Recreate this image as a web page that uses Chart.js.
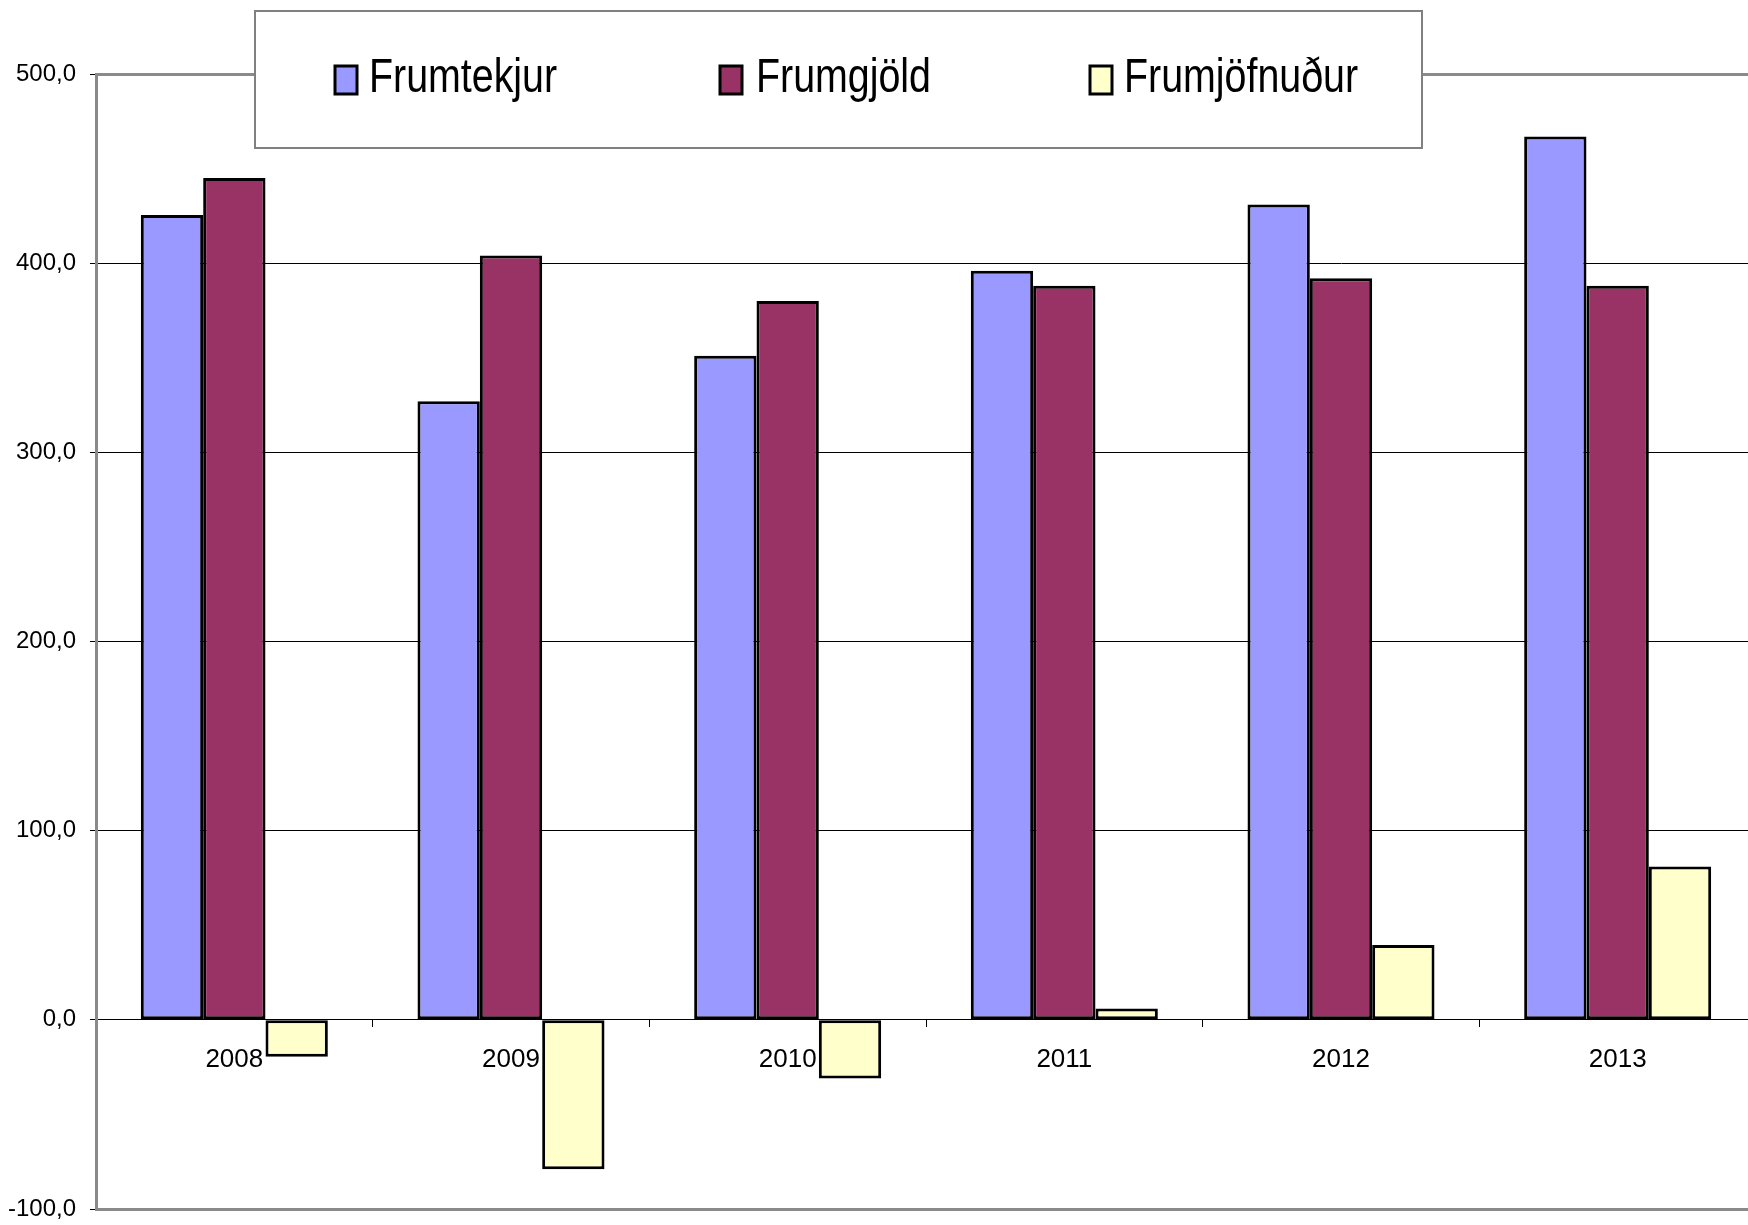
<!DOCTYPE html>
<html>
<head>
<meta charset="utf-8">
<script src="https://cdn.jsdelivr.net/npm/chart.js@4/dist/chart.umd.min.js"></script>
<style>
  html, body { margin: 0; padding: 0; background: #fff; overflow: hidden; }
  #wrap { width: 1756px; height: 1225px; }
</style>
</head>
<body>
<div id="wrap"><canvas id="c" width="1756" height="1225"></canvas></div>
<script>
const categories = ['2008', '2009', '2010', '2011', '2012', '2013'];
const seriesNames = ['Frumtekjur', 'Frumgjöld', 'Frumjöfnuður'];
const frumtekjur = [425.5, 327, 351, 396, 431, 467];
const frumgjold = [445, 404, 380, 388, 392, 388];
const frumjofnudur = [-19.5, -79, -31, 6, 39.5, 81];
const yTicks = [-100, 0, 100, 200, 300, 400, 500];
const seriesColors = ['#9999FF', '#993366', '#FFFFCC'];

const bgPlugin = {
  id: 'bg',
  beforeDraw(chart) {
    const ctx = chart.ctx;
    ctx.save();
    ctx.fillStyle = '#fff';
    ctx.fillRect(0, 0, chart.width, chart.height);
    ctx.restore();
  }
};

const legendPlugin = {
  id: 'boxLegend',
  afterDraw(chart) {
    const ctx = chart.ctx;
    ctx.save();
    ctx.fillStyle = '#fff';
    ctx.fillRect(255, 11, 1167, 137);
    ctx.strokeStyle = '#808080';
    ctx.lineWidth = 2;
    ctx.strokeRect(255, 11, 1167, 137);
    const sq = [335, 720, 1090];
    const tx = [369, 756, 1124];
    chart.data.datasets.forEach((ds, i) => {
      ctx.fillStyle = ds.backgroundColor;
      ctx.fillRect(sq[i], 66, 22, 28);
      ctx.strokeStyle = '#000';
      ctx.lineWidth = 3;
      ctx.strokeRect(sq[i], 66, 22, 28);
      ctx.save();
      ctx.translate(tx[i], 92);
      ctx.scale(0.82, 1);
      ctx.fillStyle = '#000';
      ctx.font = '48px "Liberation Sans", Arial, sans-serif';
      ctx.textBaseline = 'alphabetic';
      ctx.textAlign = 'left';
      ctx.fillText(ds.label, 0, 0);
      ctx.restore();
    });
    ctx.restore();
  }
};

const seriesData = [frumtekjur, frumgjold, frumjofnudur];

new Chart(document.getElementById('c'), {
  type: 'bar',
  data: {
    labels: categories,
    datasets: seriesNames.map((name, i) => ({
      label: name,
      data: seriesData[i],
      backgroundColor: seriesColors[i],
      borderColor: '#000',
      borderWidth: 3,
      borderSkipped: false,
      barPercentage: 1.0,
      categoryPercentage: 0.676
    }))
  },
  options: {
    responsive: false,
    animation: false,
    devicePixelRatio: 1,
    layout: { padding: { top: 74, bottom: 16, left: 0, right: 0 } },
    plugins: {
      legend: { display: false },
      tooltip: { enabled: false }
    },
    scales: {
      x: {
        position: { y: 0 },
        offset: true,
        grid: {
          display: true,
          offset: true,
          drawOnChartArea: false,
          drawTicks: true,
          tickLength: 7,
          color: '#000',
          lineWidth: 1
        },
        border: { display: true, color: '#000', width: 1 },
        ticks: {
          color: '#000',
          padding: 17,
          maxRotation: 0,
          font: { family: '"Liberation Sans", Arial, sans-serif', size: 26 }
        }
      },
      y: {
        min: -100,
        max: 500,
        afterFit(scale) {
          scale.width = 96;
          scale.paddingTop = 0;
          scale.paddingBottom = 0;
        },
        afterBuildTicks(scale) { scale.ticks = yTicks.map(v => ({ value: v })); },
        grid: {
          color: ctx => (ctx.tick && (ctx.tick.value === 500 || ctx.tick.value === -100)) ? '#8a8a8a' : '#000',
          lineWidth: ctx => (ctx.tick && (ctx.tick.value === 500 || ctx.tick.value === -100)) ? 3 : 1,
          drawTicks: true,
          tickLength: 6,
          tickColor: '#000',
          tickWidth: 1
        },
        border: { display: true, color: '#8a8a8a', width: 3 },
        ticks: {
          color: '#000',
          padding: 14,
          font: { family: '"Liberation Sans", Arial, sans-serif', size: 24 },
          callback: v => v.toFixed(1).replace('.', ',')
        }
      }
    }
  },
  plugins: [bgPlugin, legendPlugin]
});
</script>
</body>
</html>
